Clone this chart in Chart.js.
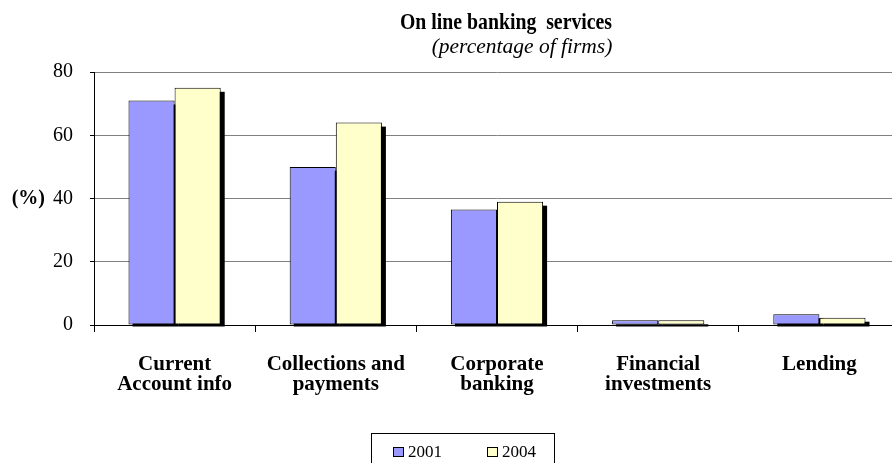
<!DOCTYPE html>
<html><head><meta charset="utf-8">
<script src="https://cdn.jsdelivr.net/npm/chart.js@4/dist/chart.umd.min.js"></script>
<style>
html,body{margin:0;padding:0;overflow:hidden;background:#fff;width:892px;height:463px}
#wrap{position:relative;width:900px;height:463px}
canvas{display:block}
</style></head>
<body><div id="wrap"><canvas id="c" width="900" height="463" style="width:900px;height:463px"></canvas></div>
<script>
const categories = [['Current','Account info'],['Collections and','payments'],['Corporate','banking'],['Financial','investments'],['Lending']];
const seriesNames = ['2001','2004'];
const values2001 = [71, 50, 36.5, 1.5, 3.4];
const values2004 = [75, 64, 39, 1.5, 2.3];
const yTickValues = [0, 20, 40, 60, 80];
const titleText = 'On line banking  services';
const subtitleText = '(percentage of firms)';
const yUnitText = '(%)';
const seriesColors = ['#9999FF', '#FFFFCC'];

const SERIF = '"Liberation Serif", "Times New Roman", serif';

function condensedText(ctx, text, cx, y, sx) {
  ctx.save();
  ctx.translate(cx, y);
  ctx.scale(sx, 1);
  ctx.fillText(text, 0, 0);
  ctx.restore();
}

const deco = {
  id: 'deco',
  beforeDatasetsDraw(chart) {
    const ctx = chart.ctx;
    ctx.save();
    ctx.fillStyle = '#000';
    chart.data.datasets.forEach((ds, i) => {
      const meta = chart.getDatasetMeta(i);
      meta.data.forEach(el => {
        const p = el.getProps(['x', 'y', 'base', 'width'], true);
        const l = p.x - p.width / 2 + 4;
        ctx.fillRect(l, p.y + 4, p.width, (p.base + 2) - (p.y + 4));
      });
    });
    ctx.restore();
  },
  afterDraw(chart) {
    const ctx = chart.ctx;
    ctx.save();
    ctx.fillStyle = '#000';
    ctx.textAlign = 'center';
    ctx.textBaseline = 'alphabetic';
    ctx.font = 'bold 23px ' + SERIF;
    condensedText(ctx, titleText, 506, 29, 0.86);
    ctx.font = 'italic 21.5px ' + SERIF;
    ctx.fillText(subtitleText, 522, 53);
    // unit label
    ctx.textAlign = 'right';
    ctx.textBaseline = 'middle';
    ctx.font = 'bold 20px ' + SERIF;
    ctx.fillText(yUnitText, 45, chart.scales.y.getPixelForValue(40));
    // legend
    ctx.textAlign = 'left';
    const lx = 371, ly = 433.5;
    ctx.strokeStyle = '#000';
    ctx.lineWidth = 1;
    ctx.strokeRect(lx + 0.5, ly, 183, 40);
    ctx.font = '17px ' + SERIF;
    const items = [{sx: 393, tx: 408}, {sx: 487, tx: 502}];
    chart.data.datasets.forEach((ds, i) => {
      const it = items[i];
      ctx.fillStyle = ds.backgroundColor;
      ctx.fillRect(it.sx + 0.5, 447.5, 10, 9);
      ctx.strokeRect(it.sx + 0.5, 447.5, 10, 9);
      ctx.fillStyle = '#000';
      ctx.fillText(ds.label, it.tx, 452.5);
    });
    ctx.restore();
  }
};

new Chart(document.getElementById('c'), {
  type: 'bar',
  data: {
    labels: categories,
    datasets: [
      {label: seriesNames[0], data: values2001, backgroundColor: seriesColors[0], borderColor: '#000', borderWidth: 1, borderSkipped: false, barPercentage: 1, categoryPercentage: 0.572},
      {label: seriesNames[1], data: values2004, backgroundColor: seriesColors[1], borderColor: '#000', borderWidth: 1, borderSkipped: false, barPercentage: 1, categoryPercentage: 0.572}
    ]
  },
  options: {
    responsive: false,
    animation: false,
    devicePixelRatio: 1,
    layout: {padding: {top: 72, left: 0, right: 0, bottom: 0}},
    plugins: {legend: {display: false}, tooltip: {enabled: false}, title: {display: false}},
    scales: {
      x: {
        grid: {drawOnChartArea: false, offset: true, color: '#000', tickLength: 7, lineWidth: 1},
        border: {color: '#000', width: 1},
        ticks: {font: {family: SERIF, weight: 'bold', size: 21, lineHeight: 0.96}, color: '#000', padding: 22, maxRotation: 0, autoSkip: false},
        afterFit(s) { s.height = 138; }
      },
      y: {
        min: 0, max: 80,
        afterBuildTicks(s) { s.ticks = yTickValues.map(v => ({value: v})); },
        ticks: {font: {family: SERIF, size: 20}, color: '#000', padding: 17},
        grid: {color: c => (c.tick && c.tick.value === 0) ? '#000' : '#808080', tickColor: '#000', tickLength: 4, lineWidth: 1},
        border: {color: '#000', width: 1},
        afterFit(s) { s.width = 94; }
      }
    }
  },
  plugins: [deco]
});
</script>
</body></html>
